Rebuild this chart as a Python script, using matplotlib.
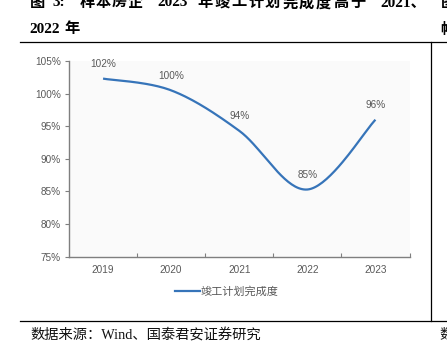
import numpy as np
import matplotlib
matplotlib.use("Agg")
import matplotlib.pyplot as plt
from matplotlib.lines import Line2D

# ---- data ----
years = ["2019", "2020", "2021", "2022", "2023"]
values = [102.3, 100.5, 94.3, 85.3, 96.0]
labels = ["102%", "100%", "94%", "85%", "96%"]
yticks = [75, 80, 85, 90, 95, 100, 105]
ytick_labels = ["75%", "80%", "85%", "90%", "95%", "100%", "105%"]
series_name = "竣工计划完成度"
# title pieces (text, left x in px, per-char advance or None) - justified in the original
title_line1 = [("图", 30, None), ("3:", 52, None), ("样本房企", 80, 16.0),
               ("2023", 157, None), ("年竣工计划完成度高于", 197, 17.0), ("2021、", 380, None)]
title_line2 = [("2022", 29, None), ("年", 64, None)]
source_text = "数据来源：Wind、国泰君安证券研究"

W, H = 447, 348
fig = plt.figure(figsize=(W / 100, H / 100), dpi=100)

def fx(px):
    return px / W

def fy(py):
    return 1 - py / H

ax = fig.add_axes([fx(69), fy(256.7), fx(409.5) - fx(69), fy(61) - fy(256.7)])
ax.set_facecolor("#fafafa")

# smooth (Catmull-Rom) curve through the data points
x = np.arange(len(values), dtype=float)
y = np.array(values, dtype=float)
px = np.concatenate([[x[0]], x, [x[-1]]])
py = np.concatenate([[y[0]], y, [y[-1]]])
xs, ys = [], []
t = np.linspace(0, 1, 40)
for i in range(1, len(px) - 2):
    p0, p1, p2, p3 = px[i - 1], px[i], px[i + 1], px[i + 2]
    q0, q1, q2, q3 = py[i - 1], py[i], py[i + 1], py[i + 2]
    def cr(a0, a1, a2, a3):
        return 0.5 * ((2 * a1) + (-a0 + a2) * t + (2 * a0 - 5 * a1 + 4 * a2 - a3) * t ** 2
                      + (-a0 + 3 * a1 - 3 * a2 + a3) * t ** 3)
    xs.extend(cr(p0, p1, p2, p3))
    ys.extend(cr(q0, q1, q2, q3))
line_color = "#3674b9"
ax.plot(xs, ys, color=line_color, lw=1.6, solid_capstyle="butt", label=series_name)

for xi, yi, lab in zip(x, y, labels):
    ax.annotate(lab, (xi, yi), xytext=(0, 10.5), textcoords="offset points",
                ha="center", va="center", fontsize=7.2, color="#595959",
                family=["Liberation Sans", "DejaVu Sans"])

ax.set_xlim(-0.5, len(years) - 0.5)
ax.set_ylim(75, 105)
ax.set_yticks(yticks)
ax.set_yticklabels(ytick_labels)
ax.set_xticks(x)
ax.set_xticklabels(years)
ax.set_xticks(np.arange(0.5, len(years) + 0.5, 1.0), minor=True)
ax.tick_params(axis="x", which="major", length=0, pad=6)
ax.tick_params(axis="x", which="minor", direction="in", length=3, color="#7f7f7f", width=0.8)
ax.tick_params(axis="y", which="major", direction="out", length=3, color="#7f7f7f", width=0.8, pad=3)
for lab in ax.get_xticklabels() + ax.get_yticklabels():
    lab.set_fontsize(7.2)
    lab.set_color("#595959")
    lab.set_family(["Liberation Sans", "DejaVu Sans"])
for s in ["top", "right"]:
    ax.spines[s].set_visible(False)
for s in ["left", "bottom"]:
    ax.spines[s].set_color("#7f7f7f")
    ax.spines[s].set_linewidth(1.0)

leg = fig.legend(handles=[Line2D([], [], color=line_color, lw=1.6)], labels=[series_name],
                 loc="center", bbox_to_anchor=(fx(226.5), fy(292)), frameon=False,
                 handlelength=2.3, handletextpad=0.0, borderpad=0,
                 prop={"family": ["Noto Sans CJK SC", "DejaVu Sans"], "size": 8})
for txt in leg.get_texts():
    txt.set_color("#595959")

# frame lines
lw = 0.9
fig.add_artist(Line2D([fx(20), 1], [fy(41.7), fy(41.7)], color="black", lw=lw))
fig.add_artist(Line2D([fx(20), 1], [fy(320.7), fy(320.7)], color="black", lw=lw))
fig.add_artist(Line2D([fx(430.7), fx(430.7)], [fy(41.7), fy(320.7)], color="black", lw=lw))

title_font = ["Liberation Serif", "Noto Sans CJK SC"]
tfs = 11.0

def put_title(pieces, ypx):
    for txt, xp, adv in pieces:
        if adv is None:
            fig.text(fx(xp), fy(ypx), txt, fontsize=tfs, fontweight="bold",
                     family=title_font, ha="left", va="center", color="black")
        else:
            for k, ch in enumerate(txt):
                fig.text(fx(xp + k * adv), fy(ypx), ch, fontsize=tfs, fontweight="bold",
                         family=title_font, ha="left", va="center", color="black")

put_title(title_line1, 3)
put_title(title_line2, 29.5)
# neighbouring (cut-off) chart title, as in the original
fig.text(fx(441), fy(3), "图", fontsize=tfs, fontweight="bold",
         family=title_font, ha="left", va="center", color="black")
fig.text(fx(440), fy(29.5), "帷", fontsize=tfs, fontweight="bold",
         family=title_font, ha="left", va="center", color="black")
fig.text(fx(30), fy(335), source_text, fontsize=10.3,
         family=["Liberation Serif", "Noto Sans CJK SC"], ha="left", va="center", color="#111111")
fig.text(fx(439), fy(335), "数", fontsize=10.3,
         family=["Liberation Serif", "Noto Sans CJK SC"], ha="left", va="center", color="#111111")

fig.savefig("out.png", dpi=100)
